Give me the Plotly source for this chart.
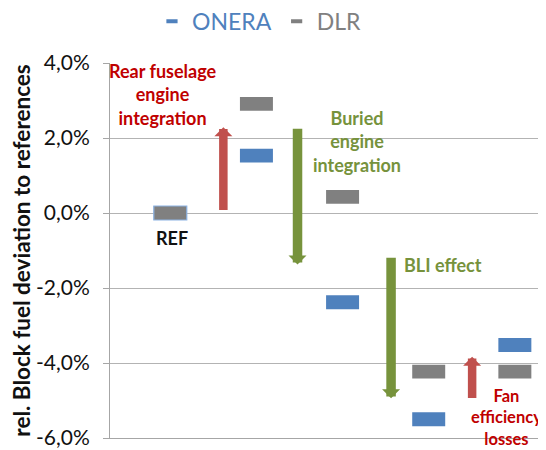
import plotly.graph_objects as go

# ---- data ----
categories = [0, 1, 2, 3, 4]  # REF, rear fuselage, buried, BLI, fan losses
onera = [0.0, 0.0153, -0.0238, -0.0550, -0.0352]
dlr = [0.0, 0.0291, 0.0043, -0.0423, -0.0423]

arrow_x = [0.616, 1.477, 2.563, 3.504]
arrow_from = [0.0004, 0.0229, -0.0115, -0.0497]
arrow_to = [0.0229, -0.0137, -0.0494, -0.0383]
arrow_kind = ["red", "green", "green", "red"]

tick_vals = [-0.06, -0.04, -0.02, 0.0, 0.02, 0.04]
tick_text = ["-6,0%", "-4,0%", "-2,0%", "0,0%", "2,0%", "4,0%"]

# ---- styles ----
BLUE = "#4F81BD"
GRAY = "#808080"
ARROW_COL = {"red": "#C0504D", "green": "#77933C"}
TEXT_RED = "#C00000"
TEXT_GREEN = "#76923C"
FONT = "Lato"
THICK = 0.00373
BAR_W = 0.383

fig = go.Figure()

fig.add_trace(go.Bar(
    x=categories, y=[THICK] * len(onera), base=[v - THICK / 2 for v in onera],
    width=BAR_W, marker=dict(color=BLUE, line=dict(width=0)),
    showlegend=False, hoverinfo="skip"))
fig.add_trace(go.Bar(
    x=categories, y=[THICK] * len(dlr), base=[v - THICK / 2 for v in dlr],
    width=BAR_W,
    marker=dict(color=GRAY, line=dict(width=[1.2, 0, 0, 0, 0],
                                      color=["#8EB4E3", GRAY, GRAY, GRAY, GRAY])),
    showlegend=False, hoverinfo="skip"))

# legend entries
for name, col in [("ONERA", BLUE), ("DLR", GRAY)]:
    fig.add_trace(go.Scatter(
        x=[None], y=[None], mode="markers", name=f"<span style='color:{col}'>{name}</span>",
        marker=dict(symbol="line-ew", size=8, color=col, line=dict(color=col, width=4))))

# arrows
for xa, y0, y1, kind in zip(arrow_x, arrow_from, arrow_to, arrow_kind):
    col = ARROW_COL[kind]
    w = 8.5 if kind == "red" else 9.5
    fig.add_annotation(
        x=xa, y=y1, ax=xa, ay=y0, xref="x", yref="y", axref="x", ayref="y",
        text="", showarrow=True, arrowhead=1, arrowwidth=w, arrowsize=3.0 / w,
        arrowcolor=col, standoff=0)

def label(text, x, y, color, xanchor="center", size=18):
    fig.add_annotation(x=x, y=y, xref="x", yref="y", text=f"<b>{text}</b>",
                       showarrow=False, xanchor=xanchor, yanchor="middle",
                       align="center" if xanchor == "center" else "left",
                       font=dict(family=FONT, size=size, color=color))

label("Rear fuselage<br>engine<br>integration", -0.08, 0.0317, TEXT_RED)
label("Buried<br>engine<br>integration", 2.165, 0.0192, TEXT_GREEN)
label("REF", 0.02, -0.0067, "#111111")
label("BLI effect", 2.69, -0.0139, TEXT_GREEN, xanchor="left")
label("Fan<br>efficiency<br>losses", 3.90, -0.0544, TEXT_RED, size=16.5)

# the page body adds an 8px offset, so the figure is sized/margined to compensate
fig.update_layout(
    width=538, height=442,
    margin=dict(l=102, r=1, t=55, b=12, autoexpand=False),
    paper_bgcolor="white", plot_bgcolor="white",
    barmode="overlay",
    font=dict(family=FONT, color="#111111"),
    legend=dict(orientation="h", xref="container", yref="container",
                x=0.4665, y=0.97, xanchor="center", yanchor="middle",
                font=dict(family=FONT, size=23), itemwidth=30,
                bgcolor="rgba(0,0,0,0)"),
    xaxis=dict(range=[-0.7, 4.35], showgrid=False, zeroline=False,
               showticklabels=False, ticks="", showline=True,
               linecolor="#A6A6A6", linewidth=1),
    yaxis=dict(range=[-0.06, 0.04], tickvals=tick_vals, ticktext=tick_text,
               showgrid=True, gridcolor="#B3B3B3", gridwidth=1, zeroline=False,
               showline=True, linecolor="#A6A6A6", linewidth=1,
               ticks="outside", ticklen=6, tickcolor="#A6A6A6",
               ticklabelstandoff=9,
               tickfont=dict(family=FONT, size=21, color="#111111"),
               title=dict(text="<b>rel. Block fuel deviation to references</b>",
                          font=dict(family=FONT, size=22.5, color="#111111"),
                          standoff=14)),
)

fig.write_html("out.html")
